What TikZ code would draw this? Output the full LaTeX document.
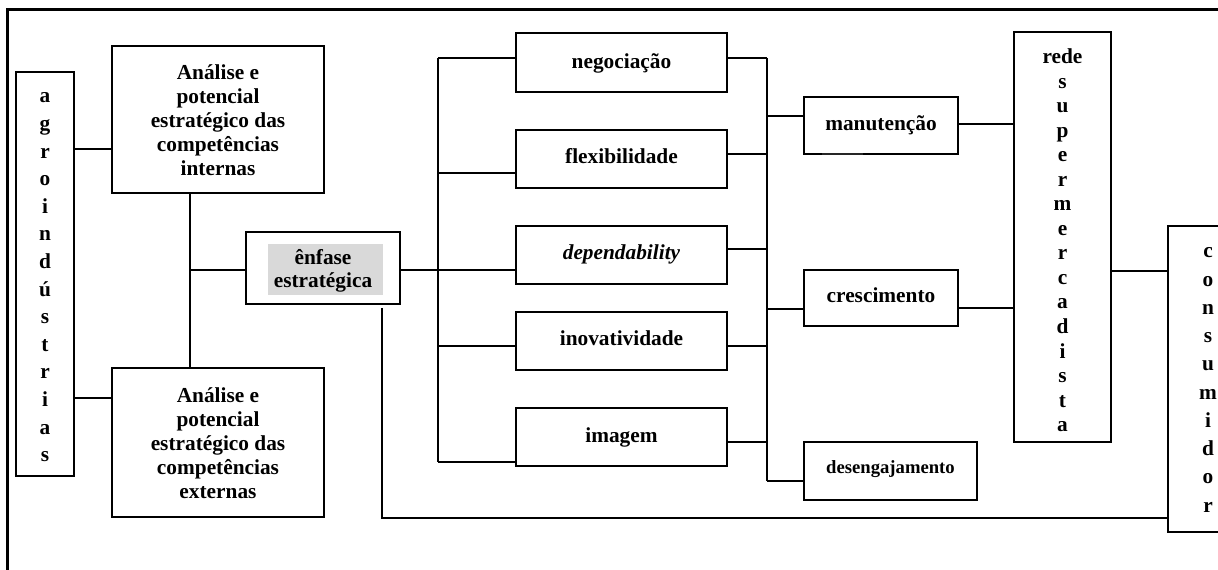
\documentclass[tikz,border=0pt]{standalone}
\usepackage{fontspec}
\setmainfont{Liberation Serif}
\usetikzlibrary{fit}
\definecolor{hlgray}{HTML}{D9D9D9}
\tikzset{
  box/.style={draw, line width=1.1pt, inner sep=0pt},
  txt/.style={inner sep=0pt, align=center,
    font=\bfseries\fontsize{16}{18}\selectfont},
  one/.style={txt, text height=0.7em, text depth=0.25em, yshift=-1.5pt},
  vtxt/.style={txt, font=\bfseries\fontsize{16}{20.7}\selectfont},
  conn/.style={line width=1.1pt},
  frameline/.style={line width=2.3pt}
}
\begin{document}
\begin{tikzpicture}[x=0.75pt,y=-0.75pt]
\useasboundingbox (0,0) rectangle (1218,570);
% frame
\draw[frameline] (7.5,570) -- (7.5,9.2) -- (1218,9.2);
% left column
\node[box, fit={(16,72)(74,476)}] (agro) {};
\node[vtxt] (agroT) at ([yshift=-2.5pt]agro.center) {a\\g\\r\\o\\i\\n\\d\\ú\\s\\t\\r\\i\\a\\s};
\node[box, fit={(112,46)(324,193)}] (int) {};
\node[txt] (intT) at ([yshift=-0.5pt]int.center) {Análise e\\potencial\\estratégico das\\competências\\internas};
\node[box, fit={(112,368)(324,517)}] (ext) {};
\node[txt] (extT) at ([yshift=-0.5pt]ext.center) {Análise e\\potencial\\estratégico das\\competências\\externas};
% enfase
\fill[hlgray] (268,244) rectangle (383,295);
\node[box, fit={(246,232)(400,304)}] (enf) {};
\node[txt, font=\bfseries\fontsize{16}{17.25}\selectfont] (enfT) at ([yshift=-2pt]enf.center) {ênfase\\estratégica};
% middle column
\node[box, fit={(516,33)(727,92)}] (neg) {};
\node[one] (negT) at ([yshift=-0.8pt]neg.center) {negociação};
\node[box, fit={(516,130)(727,188)}] (flex) {};
\node[one] (flexT) at (flex.center) {flexibilidade};
\node[box, fit={(516,226)(727,284)}] (dep) {};
\node[one, font=\bfseries\itshape\fontsize{16}{17.25}\selectfont] (depT) at (dep.center) {dependability};
\node[box, fit={(516,312)(727,370)}] (inov) {};
\node[one] (inovT) at (inov.center) {inovatividade};
\node[box, fit={(516,408)(727,466)}] (img) {};
\node[one] (imgT) at (img.center) {imagem};
% right column
\node[box, fit={(804,97)(958,154)}] (man) {};
\node[one] (manT) at (man.center) {manutenção};
\node[box, fit={(804,270)(958,326)}] (cres) {};
\node[one] (cresT) at (cres.center) {crescimento};
\node[box, fit={(804,442)(977,500)}] (des) {};
\node[one, font=\bfseries\fontsize{14}{16}\selectfont] (desT) at ([yshift=2pt]des.center) {desengajamento};
\node[box, fit={(1014,32)(1111,442)}] (rede) {};
\node[vtxt, font=\bfseries\fontsize{16}{18.4}\selectfont] (redeT) at ([yshift=-2.5pt]rede.center) {rede\\s\\u\\p\\e\\r\\m\\e\\r\\c\\a\\d\\i\\s\\t\\a};
\node[box, fit={(1168,226)(1240,532)}] (cons) {};
\node[vtxt, font=\bfseries\fontsize{16}{21.2}\selectfont] (consT) at (1208,380) {c\\o\\n\\s\\u\\m\\i\\d\\o\\r};
% small dark mark under manutencao
\draw[line width=1.8pt, black!85] (822,154) -- (863,154);
% junction coordinates
\coordinate (j1) at (190,270);
\coordinate (lb1) at (438,58);
\coordinate (lb2) at (438,462);
\coordinate (rb1) at (767,58);
\coordinate (rb2) at (767,481);
\coordinate (lp) at (382,308);
\coordinate (lc) at (382,518);
% connectors left
\draw[conn] (agro.east |- 0,149) -- (int.west |- 0,149);
\draw[conn] (agro.east |- 0,398) -- (ext.west |- 0,398);
\draw[conn] (int.south -| j1) -- (ext.north -| j1);
\draw[conn] (j1) -- (enf.west |- j1);
\draw[conn] (enf.east |- 0,270) -- (438,270);
% left bus
\draw[conn] (lb1) -- (lb2);
\draw[conn] (lb1) -- (neg.west |- lb1);
\draw[conn] (lb1 |- 0,173) -- (flex.west |- 0,173);
\draw[conn] (lb1 |- 0,270) -- (dep.west |- 0,270);
\draw[conn] (lb1 |- 0,346) -- (inov.west |- 0,346);
\draw[conn] (lb2) -- (img.west |- lb2);
% right bus
\draw[conn] (rb1) -- (rb2);
\draw[conn] (neg.east |- rb1) -- (rb1);
\draw[conn] (flex.east |- 0,154) -- (rb1 |- 0,154);
\draw[conn] (dep.east |- 0,249) -- (rb1 |- 0,249);
\draw[conn] (inov.east |- 0,346) -- (rb1 |- 0,346);
\draw[conn] (img.east |- 0,442) -- (rb1 |- 0,442);
\draw[conn] (rb1 |- 0,116) -- (man.west |- 0,116);
\draw[conn] (rb1 |- 0,309) -- (cres.west |- 0,309);
\draw[conn] (rb2) -- (des.west |- rb2);
% to rede and consumidor
\draw[conn] (man.east |- 0,124) -- (rede.west |- 0,124);
\draw[conn] (cres.east |- 0,308) -- (rede.west |- 0,308);
\draw[conn] (rede.east |- 0,271) -- (cons.west |- 0,271);
% return line
\draw[conn] (lp) -- (lc) -- (cons.west |- lc);
\end{tikzpicture}
\end{document}
